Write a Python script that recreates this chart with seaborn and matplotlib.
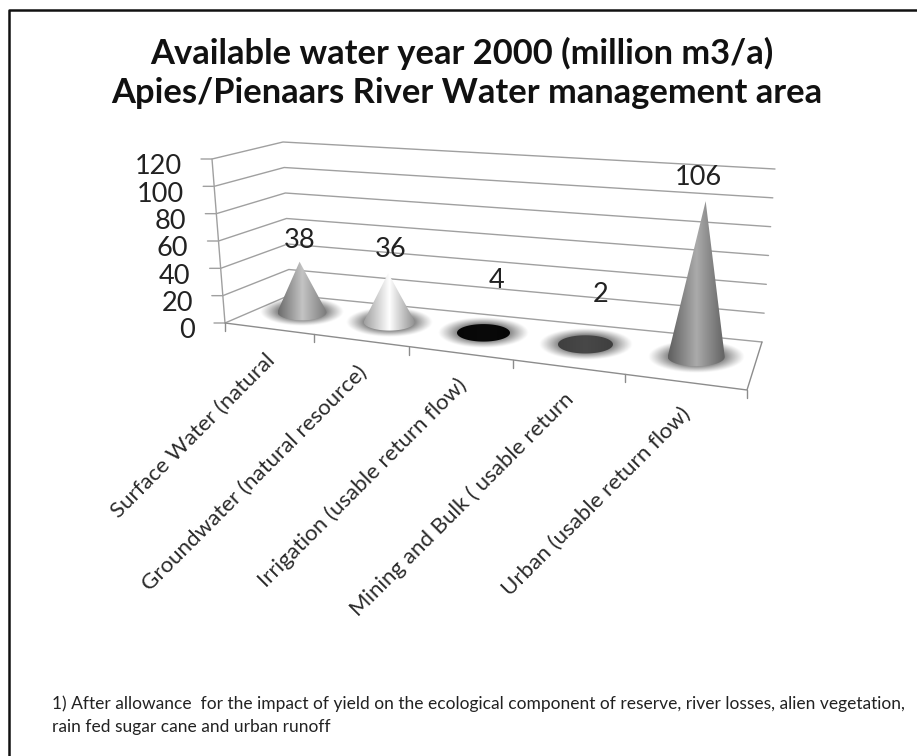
import numpy as np
import pandas as pd
import matplotlib
matplotlib.use("Agg")
import matplotlib.pyplot as plt
from matplotlib.colors import LinearSegmentedColormap
from matplotlib.patches import Polygon
import seaborn as sns

# Chart content
title_lines = ["Available water year 2000 (million m3/a)",
               "Apies/Pienaars River Water management area"]
categories = ["Surface Water (natural",
              "Groundwater (natural resource)",
              "Irrigation (usable return flow)",
              "Mining and Bulk ( usable return",
              "Urban (usable return flow)"]
values = [38, 36, 4, 2, 106]
y_ticks = [0, 20, 40, 60, 80, 100, 120]
footnote = ("1) After allowance  for the impact of yield on the ecological component of reserve, "
            "river losses, alien vegetation,\nrain fed sugar cane and urban runoff")

# Cone shading: left edge, highlight, right edge
cone_shades = [("#6c6c6c", "#c4c4c4", "#7a7a7a"),
               ("#a0a0a0", "#ffffff", "#909090"),
               ("#060606", "#0a0a0a", "#060606"),
               ("#3f3f3f", "#484848", "#3f3f3f"),
               ("#5e5e5e", "#ababab", "#636363")]
# Where each value label sits relative to its cone tip
label_lift = [21, 24, 47, 47, 24]
label_shift = [0, 2, 13, 15, -7]

sns.set_style("white")
plt.rcParams["font.family"] = ["Lato", "DejaVu Sans"]

# Projected box of the 3-D chart, in figure pixels
FL, FR, BR, BL = map(np.array, ([225., 323.], [747., 390.], [762., 342.], [290., 295.]))
UP_FL, UP_BL, UP_BR, UP_FR = map(np.array, ([-13., -164.], [-7., -153.], [13., -173.], [14., -186.]))
YMAX = y_ticks[-1]
FORESHORTEN = 1.22
CONE_DEPTH = 0.55


def along(t):
    # Categories spread wider towards the viewer's end of the front edge
    return t / (FORESHORTEN * (1 - t) + t)


def floor(t, d):
    f = along(t)
    front = (1 - f) * FL + f * FR
    back = (1 - f) * BL + f * BR
    return (1 - d) * front + d * back


def wall(corner, up, v):
    return corner + up * v / YMAX


def up_vector(t, d):
    f = along(t)
    front = (1 - f) * UP_FL + f * UP_FR
    back = (1 - f) * UP_BL + f * UP_BR
    return (1 - d) * front + d * back


fig = plt.figure(figsize=(9.17, 7.56), dpi=100)
ax = fig.add_axes([0, 0, 1, 1])


def stroke(points, color="#a0a0a0", lw=1.0, z=1):
    pts = pd.DataFrame(points, columns=["x", "y"])
    sns.lineplot(data=pts, x="x", y="y", sort=False, estimator=None, color=color,
                 linewidth=lw, zorder=z, ax=ax, legend=False)


# Value gridlines wrapping the side and back walls, with stubs at the left
for v in y_ticks:
    a = wall(FL, UP_FL, v)
    b = wall(BL, UP_BL, v)
    c = wall(BR, UP_BR, v)
    stroke([a + np.array([-11, 0]), a, b, c])
    ax.text(a[0] - 30, a[1] + 8, str(v), ha="right", va="center", fontsize=19.5, color="#222222")

# Floor outline, vertical axis and category ticks
stroke([wall(FL, UP_FL, 0), wall(FL, UP_FL, YMAX)])
stroke([FL, FR, BR], color="#8c8c8c")
n = len(categories)
for i in range(n + 1):
    p = floor(i / n, 0)
    stroke([p, p + np.array([0, 8])], color="#8c8c8c")

# Category labels hang from the front edge at 45 degrees
for i, name in enumerate(categories):
    p = floor((i + 0.5) / n, 0)
    ax.text(p[0] + 3, p[1] + 29, name, rotation=45, rotation_mode="anchor", ha="right",
            va="center", fontsize=16, color="#2a2a2a")


def glow(center, rx, ry):
    gx, gy = rx * 1.7, ry * 1.75
    xs = np.linspace(-gx, gx, 160)
    ys = np.linspace(-gy, gy, 80)
    r = np.hypot(*np.meshgrid(xs / gx, ys / gy))
    s = np.clip((1 - r) / 0.42, 0, 1)
    rgba = np.zeros((80, 160, 4))
    rgba[..., :3] = 0.45
    rgba[..., 3] = 0.85 * s ** 1.1
    ax.imshow(rgba, extent=(center[0] - gx, center[0] + gx, center[1] + gy, center[1] - gy),
              aspect="auto", zorder=2, interpolation="bilinear")


def cone_outline(center, apex, rx, ry):
    p = (apex - center) / np.array([rx, ry])
    dist = np.hypot(*p)
    if dist <= 1:
        ang = np.linspace(0, 2 * np.pi, 120)
        return np.column_stack([center[0] + rx * np.cos(ang), center[1] + ry * np.sin(ang)])
    phi = np.arctan2(p[1], p[0])
    alpha = np.arccos(1 / dist)
    ang = np.linspace(phi + alpha, phi + 2 * np.pi - alpha, 120)
    arc = np.column_stack([center[0] + rx * np.cos(ang), center[1] + ry * np.sin(ang)])
    return np.vstack([apex, arc])


# Cones stand on the floor, each with a soft halo around its base
for i, (val, shades) in enumerate(zip(values, cone_shades)):
    t = (i + 0.5) / n
    base = floor(t, CONE_DEPTH)
    rx = 24 + 5 * t
    ry = rx * 0.33
    apex = base + up_vector(t, CONE_DEPTH) * val / YMAX
    glow(base, rx, ry)
    cmap = LinearSegmentedColormap.from_list("cone", shades)
    top = min(apex[1], base[1] - ry) - 1
    img = ax.imshow(np.linspace(0, 1, 128)[None, :], cmap=cmap, aspect="auto", zorder=3,
                    extent=(base[0] - rx, base[0] + rx, base[1] + ry + 1, top))
    img.set_clip_path(Polygon(cone_outline(base, apex, rx, ry), transform=ax.transData))
    ax.text(apex[0] + label_shift[i], apex[1] - label_lift[i], str(val), ha="center", va="center",
            fontsize=19.5, color="#222222", zorder=4)

# Title, footnote and the frame along the top and left edges
for line, x, y in zip(title_lines, (462, 467), (53, 93)):
    ax.text(x, y, line, ha="center", va="center", fontsize=24.8, fontweight="bold", color="#111111")
ax.text(52, 715, footnote, ha="left", va="center", fontsize=12.5, color="#222222", linespacing=1.55)
stroke([(8.5, 756), (8.5, 9.5), (917, 9.5)], color="#111111", lw=1.8, z=5)

ax.set_xlim(0, 917)
ax.set_ylim(756, 0)
ax.axis("off")
fig.savefig("out.png", dpi=100, facecolor="white")
